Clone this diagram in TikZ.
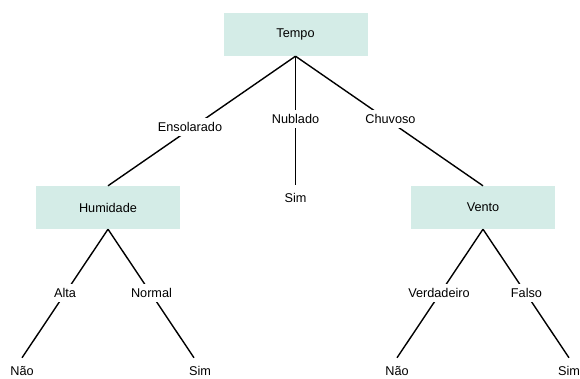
\documentclass[tikz,border=0pt]{standalone}
\usepackage{fontspec}
\setmainfont{Liberation Sans}
\definecolor{boxfill}{RGB}{212,236,231}
\begin{document}
\begin{tikzpicture}[x=1pt,y=-1pt,
  every node/.style={font=\fontsize{12.7}{14}\selectfont},
  box/.style={fill=boxfill, minimum width=144pt, minimum height=43pt, inner sep=0pt},
  lbl/.style={fill=white, inner sep=4pt},
  leaf/.style={inner sep=0pt, minimum height=26pt},
  conn/.style={draw=black, line width=1.4pt}]
\useasboundingbox (0,0) rectangle (580,378);
\node[box] (tempo) at (295.5,34.5) {Tempo};
\node[box] (hum) at (108,207.5) {Humidade};
\node[box] (vento) at (483,207.5) {Vento};
\node[leaf] (simN) at (295.5,198) {Sim};
\node[leaf] (nao1) at (22,371) {Não};
\node[leaf] (sim1) at (200,371) {Sim};
\node[leaf] (nao2) at (397,371) {Não};
\node[leaf] (sim2) at (569,371) {Sim};
% connectors
\draw[conn] (tempo.south) -- (hum.north);
\draw[conn] (tempo.south) -- (simN.north);
\draw[conn] (tempo.south) -- (vento.north);
\draw[conn] (hum.south) -- (nao1.north);
\draw[conn] (hum.south) -- ([xshift=-6pt]sim1.north);
\draw[conn] (vento.south) -- (nao2.north);
\draw[conn] (vento.south) -- (sim2.north);
% labels
\node[lbl] (ens) at (190,127) {Ensolarado};
\node[lbl] (nub) at (295.5,119) {Nublado};
\node[lbl] (chu) at (390.5,119) {Chuvoso};
\node[lbl] (alta) at (65,293) {Alta};
\node[lbl] (norm) at (151.5,293) {Normal};
\node[lbl] (verd) at (439,293) {Verdadeiro};
\node[lbl] (fals) at (526.5,293) {Falso};
\end{tikzpicture}
\end{document}
